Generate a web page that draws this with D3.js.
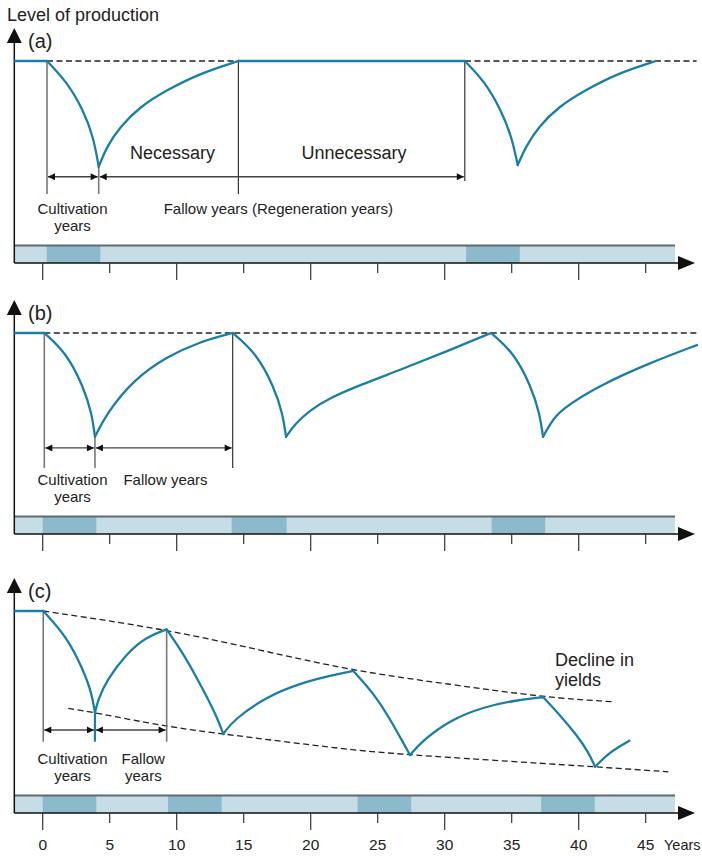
<!DOCTYPE html>
<html><head><meta charset="utf-8">
<script src="https://cdn.jsdelivr.net/npm/d3@7"></script>
<style>body{margin:0;background:#fff}svg{display:block;font-family:"Liberation Sans",Arial,Helvetica,sans-serif}</style>
</head><body><svg id="chart" width="702" height="856"></svg>
<script>
// ---------- DATA ----------
const tickYears = [0,5,10,15,20,25,30,35,40,45];
const tickLabels = ["0","5","10","15","20","25","30","35","40","45"];
const xTitle = "Years";
const yTitle = "Level of production";
const panelLabels = ["(a)","(b)","(c)"];

// production level (0 = axis, 100 = initial level) by year; each entry one segment
const curveA = [
  [[-2.1,100],[0.32,100]],
  [[0.32,100],[1.79,89.8],[3.03,75.7],[3.78,62.5],[4.18,47.7]],
  [[4.18,47.7],[4.78,57.6],[5.77,67.5],[7.26,77.4],[9.25,85.6],[11.74,93.9],[14.6,100]],
  [[14.6,100],[31.5,100]],
  [[31.5,100],[33.0,89.8],[34.2,75.7],[35.0,62.5],[35.45,48.5]],
  [[35.45,48.5],[36.05,57.6],[37.0,67.5],[38.5,77.4],[40.5,85.6],[42.9,93.9],[45.75,100]]
];
const curveB = [
  [[-2.1,100],[0.12,100]],
  [[0.12,100],[1.79,89.9],[3.03,73.3],[3.66,60.2],[3.9,48.4]],
  [[3.9,48.4],[4.78,60.0],[6.76,76.6],[9.25,88.2],[11.74,95.7],[14.18,100]],
  [[14.18,100],[15.95,89.9],[17.25,73.3],[17.9,60.2],[18.16,48.4]],
  [[18.16,48.4],[18.83,54.7],[19.95,61.7],[21.44,67.7],[23.68,74.1],[26.66,81.6],[30.02,90.5],[33.46,100]],
  [[33.46,100],[35.2,89.9],[36.45,73.3],[37.08,60.2],[37.34,48.4]],
  [[37.34,48.4],[37.86,54.7],[38.6,61.7],[41.6,74.1],[45.3,85.1],[48.83,94]]
];
const curveC = [
  [[-2.1,100],[0.04,100]],
  [[0.04,100],[1.79,87.3],[3.03,70.8],[3.66,59.3],[3.9,49.7]],
  [[3.9,49.7],[4.13,56.1],[4.78,65.8],[6.27,79.1],[7.76,87.3],[9.25,90.9]],
  [[9.25,90.9],[10.49,79.1],[11.99,60.9],[12.99,47.7],[13.48,39.1]],
  [[13.48,39.1],[14.22,46.0],[16.72,57.6],[19.2,64.2],[21.69,68.3],[23.18,70.3]],
  [[23.18,70.3],[24.93,57.4],[26.16,43.6],[26.91,34.7],[27.41,28.7]],
  [[27.41,28.7],[28.4,36.1],[30.4,46.0],[32.88,52.5],[35.37,55.9],[37.36,57.3]],
  [[37.36,57.3],[38.6,48.5],[39.85,38.6],[40.72,30.2],[41.22,22.9]],
  [[41.22,22.9],[42.09,28.7],[42.84,32.2],[43.78,35.8]]
];
const refLevelA = [[0.32,100],[48.8,100]];
const refLevelB = [[0.12,100],[48.8,100]];
const upperTrendC = [[0.04,100],[9.25,90.9],[16.2,80.7],[23.18,70.3],[30.4,63.7],[37.36,57.3],[42.46,55.1]];
const lowerTrendC = [[1.91,51.8],[3.9,49.7],[9.25,42.7],[13.48,39.1],[22.93,31.2],[27.41,28.7],[41.22,22.9],[46.69,20.4]];

const cultivationA = [[0.3,4.3],[31.6,35.6]];
const cultivationB = [[0,4],[14.1,18.2],[33.5,37.5]];
const cultivationC = [[0,4],[9.35,13.35],[23.5,27.5],[37.2,41.2]];

// guide lines: [year, from level, to level, kind]
const guidesA = [[0.32,100,34.2,"g"],[4.18,47.7,34.2,"g"],[14.6,100,34.2,"k"],[31.5,100,40.6,"k"]];
const guidesB = [[0.12,100,32.8,"g"],[3.9,48.4,32.8,"g"],[14.18,100,32.8,"k"]];
const guidesC = [[0.04,100,35.3,"g"],[3.9,49.7,35.3,"b"],[9.25,90.9,35.3,"g"]];
// double arrows: [from year, to year, level]
const spansA = [[0.32,4.18,42.7],[4.18,31.5,42.7]];
const spansB = [[0.12,3.9,42.8],[3.9,14.18,42.8]];
const spansC = [[0.04,3.9,41.1],[3.9,9.25,41.1]];

// ---------- LAYOUT ----------
const BLUE = "#1b7fa5", LIGHT = "#c6dde6", DARK = "#8cb9cb";
const panels = [
  {top:61, axis:263, curve:curveA, ref:refLevelA, cult:cultivationA, guides:guidesA, spans:spansA},
  {top:333, axis:534, curve:curveB, ref:refLevelB, cult:cultivationB, guides:guidesB, spans:spansB},
  {top:611, axis:813, curve:curveC, ref:null, cult:cultivationC, guides:guidesC, spans:spansC}
];
const X0 = 14.3, BAND_END = 675, ARROW_TIP = 695;
const x = d3.scaleLinear().domain([0,45]).range([42.7,645.7]);

const svg = d3.select("#chart");
const defs = svg.append("defs");
function mk(id, orient){
  const m = defs.append("marker").attr("id",id).attr("viewBox","0 0 10 10")
    .attr("refX", 10).attr("refY",5).attr("markerWidth",8).attr("markerHeight",7)
    .attr("markerUnits","userSpaceOnUse").attr("orient",orient);
  m.append("path").attr("d","M0,0L10,5L0,10Z").attr("fill","#111");
}
mk("arrEnd","auto"); mk("arrStart","auto-start-reverse");

svg.append("text").attr("x",7).attr("y",21).attr("font-size",18).attr("fill","#222").text(yTitle);

const DASH = {stroke:"#222", width:1.3, dash:"6,3.5"};

panels.forEach((p,i)=>{
  const y = d3.scaleLinear().domain([0,100]).range([p.axis,p.top]);
  const g = svg.append("g");
  const line = d3.line().x(d=>x(d[0])).y(d=>y(d[1])).curve(d3.curveBasis);

  // band
  const bandTop = p.axis-17.5;
  g.append("rect").attr("x",X0).attr("y",bandTop).attr("width",BAND_END-X0).attr("height",17.5).attr("fill",LIGHT);
  g.selectAll("rect.cult").data(p.cult).join("rect").attr("class","cult")
    .attr("x",d=>x(d[0])).attr("y",bandTop).attr("width",d=>x(d[1])-x(d[0])).attr("height",17.5).attr("fill",DARK);
  g.append("line").attr("x1",X0).attr("x2",BAND_END).attr("y1",bandTop).attr("y2",bandTop)
    .attr("stroke","#5e6a70").attr("stroke-width",2);

  // x axis
  g.append("line").attr("x1",X0).attr("x2",ARROW_TIP-14).attr("y1",p.axis).attr("y2",p.axis)
    .attr("stroke","#111").attr("stroke-width",1.5);
  g.append("path").attr("d",`M${ARROW_TIP-17},${p.axis-7}L${ARROW_TIP},${p.axis}L${ARROW_TIP-17},${p.axis+7}Z`).attr("fill","#111");
  g.selectAll("line.tick").data(tickYears).join("line").attr("class","tick")
    .attr("x1",d=>x(d)).attr("x2",d=>x(d)).attr("y1",p.axis)
    .attr("y2",(d,j)=>p.axis+(j%2===0?17:10)).attr("stroke","#333").attr("stroke-width",1.2);

  // y axis
  g.append("line").attr("x1",X0).attr("x2",X0).attr("y1",p.top-18).attr("y2",p.axis)
    .attr("stroke","#111").attr("stroke-width",1.5);
  g.append("path").attr("d",`M${X0-7.5},${p.top-18}L${X0},${p.top-33}L${X0+7.5},${p.top-18}Z`).attr("fill","#111");
  g.append("text").attr("x",28).attr("y",p.top-13).attr("font-size",20).attr("fill","#222").text(panelLabels[i]);

  // reference dashed
  if(p.ref){
    g.append("path").attr("d",d3.line().x(d=>x(d[0])).y(d=>y(d[1]))(p.ref))
      .attr("fill","none").attr("stroke",DASH.stroke).attr("stroke-width",DASH.width).attr("stroke-dasharray",DASH.dash);
  }
  if(i===2){
    [upperTrendC, lowerTrendC].forEach(t=>{
      g.append("path").attr("d",line(t)).attr("fill","none").attr("stroke",DASH.stroke)
        .attr("stroke-width",DASH.width).attr("stroke-dasharray",DASH.dash);
    });
  }

  // guides
  g.selectAll("line.guide").data(p.guides).join("line").attr("class","guide")
    .attr("x1",d=>x(d[0])).attr("x2",d=>x(d[0])).attr("y1",d=>y(d[1])).attr("y2",d=>y(d[2]))
    .attr("stroke",d=>d[3]==="g"?"#777":d[3]==="b"?BLUE:"#222")
    .attr("stroke-width",d=>d[3]==="g"?1.6:d[3]==="b"?2.2:1.1);

  // spans
  g.selectAll("line.span").data(p.spans).join("line").attr("class","span")
    .attr("x1",d=>x(d[0])+1).attr("x2",d=>x(d[1])-1).attr("y1",d=>y(d[2])).attr("y2",d=>y(d[2]))
    .attr("stroke","#444").attr("stroke-width",1.3)
    .attr("marker-start","url(#arrStart)").attr("marker-end","url(#arrEnd)");

  // curve
  g.selectAll("path.seg").data(p.curve).join("path").attr("class","seg")
    .attr("d",line).attr("fill","none").attr("stroke",BLUE).attr("stroke-width",2.3)
    .attr("stroke-linejoin","round").attr("stroke-linecap","round");

  const lab = (t,xx,yy,size,anchor)=>g.append("text").attr("x",xx).attr("y",yy)
    .attr("font-size",size).attr("fill","#222").attr("text-anchor",anchor||"middle").text(t);
  lab("Cultivation",72.5,p.axis-49,15);
  lab("years",72.5,p.axis-32,15);
  if(i===0){
    lab("Necessary",172.5,159,18);
    lab("Unnecessary",354,159,18);
    lab("Fallow years (Regeneration years)",278.3,p.axis-49,15);
  } else if(i===1){
    lab("Fallow years",165.5,p.axis-49,15);
  } else {
    lab("Fallow",143.3,p.axis-49,15);
    lab("years",143.3,p.axis-32,15);
    lab("Decline in",555,666,18,"start");
    lab("yields",555,686,18,"start");
    g.selectAll("text.tl").data(tickYears).join("text").attr("class","tl")
      .attr("x",d=>x(d)).attr("y",850).attr("font-size",15.5).attr("fill","#222")
      .attr("text-anchor","middle").text((d,j)=>tickLabels[j]);
    lab(xTitle,664,850,14.5,"start");
  }
});
</script></body></html>
